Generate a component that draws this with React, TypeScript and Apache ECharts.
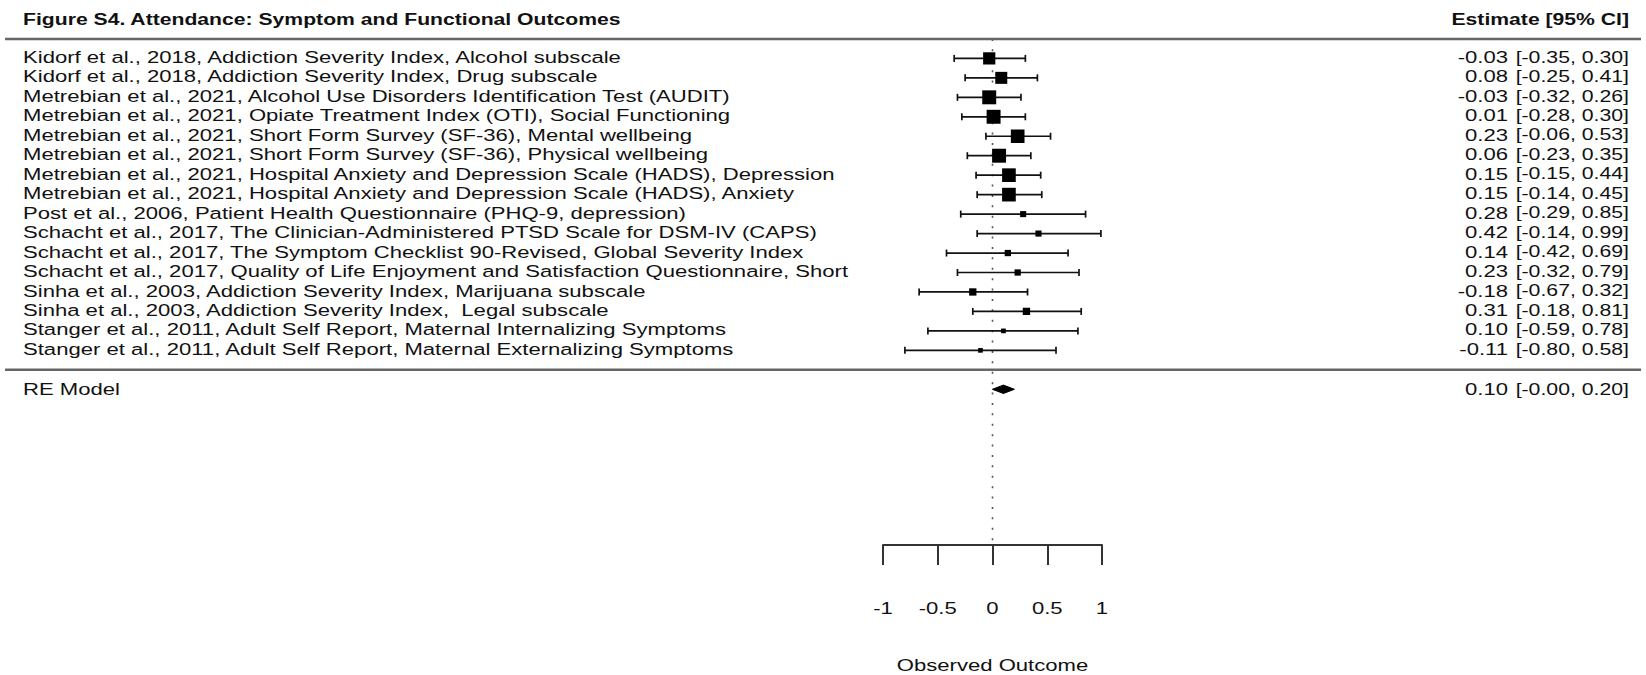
import React, { useEffect, useRef } from "react";
import * as echarts from "echarts";

// ---------- data ----------
const figureTitle = "Figure S4. Attendance: Symptom and Functional Outcomes";
const estimateHeader = "Estimate [95% CI]";
const xAxisTitle = "Observed Outcome";

const studyLabels = [
  "Kidorf et al., 2018, Addiction Severity Index, Alcohol subscale",
  "Kidorf et al., 2018, Addiction Severity Index, Drug subscale",
  "Metrebian et al., 2021, Alcohol Use Disorders Identification Test (AUDIT)",
  "Metrebian et al., 2021, Opiate Treatment Index (OTI), Social Functioning",
  "Metrebian et al., 2021, Short Form Survey (SF-36), Mental wellbeing",
  "Metrebian et al., 2021, Short Form Survey (SF-36), Physical wellbeing",
  "Metrebian et al., 2021, Hospital Anxiety and Depression Scale (HADS), Depression",
  "Metrebian et al., 2021, Hospital Anxiety and Depression Scale (HADS), Anxiety",
  "Post et al., 2006, Patient Health Questionnaire (PHQ-9, depression)",
  "Schacht et al., 2017, The Clinician-Administered PTSD Scale for DSM-IV (CAPS)",
  "Schacht et al., 2017, The Symptom Checklist 90-Revised, Global Severity Index",
  "Schacht et al., 2017, Quality of Life Enjoyment and Satisfaction Questionnaire, Short",
  "Sinha et al., 2003, Addiction Severity Index, Marijuana subscale",
  "Sinha et al., 2003, Addiction Severity Index,  Legal subscale",
  "Stanger et al., 2011, Adult Self Report, Maternal Internalizing Symptoms",
  "Stanger et al., 2011, Adult Self Report, Maternal Externalizing Symptoms",
];
const estimates = [-0.03, 0.08, -0.03, 0.01, 0.23, 0.06, 0.15, 0.15, 0.28, 0.42, 0.14, 0.23, -0.18, 0.31, 0.10, -0.11];
const lowerCI = [-0.35, -0.25, -0.32, -0.28, -0.06, -0.23, -0.15, -0.14, -0.29, -0.14, -0.42, -0.32, -0.67, -0.18, -0.59, -0.80];
const upperCI = [0.30, 0.41, 0.26, 0.30, 0.53, 0.35, 0.44, 0.45, 0.85, 0.99, 0.69, 0.79, 0.32, 0.81, 0.78, 0.58];

const reLabel = "RE Model";
const reEstimate = 0.10;
const reLower = -0.001;
const reUpper = 0.20;

const xTickValues = [-1, -0.5, 0, 0.5, 1];
const xTickLabels = ["-1", "-0.5", "0", "0.5", "1"];

// ---------- layout / style ----------
const W = 1646;
const H = 675;
const FAMILY = "'Liberation Sans', Arial, Helvetica, sans-serif";
const FS = 17;
const TEXT = "#111";
const STRETCH = 1.3; // reference text is horizontally stretched
const STRETCH_BOLD = 1.245;
const STRETCH_CI = 1.25;
const LEFT_X = 23;
const EST_RIGHT_X = 1508;
const CI_RIGHT_X = 1629;
const Y_MIN = -9;
const Y_MAX = 19;

const k = studyLabels.length;
const rowOf = (i: number) => k - i; // 16 .. 1
const RE_ROW = -1;
const SEP_ROW = 0;
const TOP_ROW = k + 1;
const HEAD_ROW = k + 2;

const fmt = (v: number) => v.toFixed(2);

// square size as in metafor: 1/se rescaled into [0.5, 1.5]
const invSe = lowerCI.map((lo, i) => 3.92 / (upperCI[i] - lo));
const wMin = Math.min(...invSe);
const wMax = Math.max(...invSe);
const psize = invSe.map((w) => 0.5 + (w - wMin) / (wMax - wMin));
const SIZE_UNIT = 9.3;

const txt = (text: string, x: number, y: number, align: string, bold = false, sx = STRETCH) => ({
  type: "text",
  x,
  y,
  scaleX: sx,
  style: {
    text,
    x: 0,
    y: 0,
    align,
    verticalAlign: "middle",
    fontSize: FS,
    fontFamily: FAMILY,
    fontWeight: bold ? "bold" : "normal",
    fill: TEXT,
  },
});

export default function App() {
  const ref = useRef<HTMLDivElement>(null);

  useEffect(() => {
    if (!ref.current) return;
    const chart = echarts.init(ref.current, undefined, { renderer: "svg" });

    const studyData = studyLabels.map((_, i) => [estimates[i], rowOf(i), lowerCI[i], upperCI[i], psize[i], i]);

    const option: any = {
      animation: false,
      backgroundColor: "#fff",
      grid: { left: 883, right: W - 1102, top: 0, bottom: H - 545 },
      xAxis: {
        type: "value",
        min: xTickValues[0],
        max: xTickValues[xTickValues.length - 1],
        interval: 0.5,
        position: "bottom",
        axisLine: { show: true, onZero: false, lineStyle: { color: "#333", width: 2 } },
        axisTick: { show: true, length: 20, lineStyle: { color: "#333", width: 2 } },
        axisLabel: { show: false },
        splitLine: { show: false },
      },
      yAxis: { type: "value", min: Y_MIN, max: Y_MAX, show: false },
      series: [
        {
          // vertical reference line at 0
          type: "line",
          data: [[0, TOP_ROW], [0, Y_MIN]],
          symbol: "none",
          silent: true,
          lineStyle: { color: "#555", width: 1.6, type: [2, 8.4] },
          z: 1,
        },
        {
          // header and separators
          type: "custom",
          clip: false,
          silent: true,
          data: [[0, HEAD_ROW]],
          renderItem: (params: any, api: any) => {
            const yHead = api.coord([0, HEAD_ROW])[1];
            const yTop = api.coord([0, TOP_ROW])[1];
            const ySep = api.coord([0, SEP_ROW])[1];
            const lineSt = { stroke: "#666", lineWidth: 2.6 };
            return {
              type: "group",
              children: [
                txt(figureTitle, LEFT_X, yHead, "left", true, STRETCH_BOLD),
                txt(estimateHeader, CI_RIGHT_X, yHead, "right", true, STRETCH_BOLD),
                { type: "line", shape: { x1: 5, y1: yTop, x2: W - 5, y2: yTop }, style: lineSt },
                { type: "line", shape: { x1: 5, y1: ySep, x2: W - 5, y2: ySep }, style: lineSt },
              ],
            };
          },
          z: 2,
        },
        {
          // x tick labels and axis title
          type: "custom",
          clip: false,
          silent: true,
          data: xTickValues.map((v, i) => [v, Y_MIN, i]),
          renderItem: (params: any, api: any) => {
            const v = api.value(0);
            const i = api.value(2);
            const p = api.coord([v, Y_MIN]);
            const children: any[] = [txt(xTickLabels[i], p[0], p[1] + 63, "center")];
            if (v === 0) children.push(txt(xAxisTitle, p[0], p[1] + 120, "center"));
            return { type: "group", children };
          },
          z: 2,
        },
        {
          // studies
          type: "custom",
          clip: false,
          data: studyData,
          renderItem: (params: any, api: any) => {
            const est = api.value(0);
            const row = api.value(1);
            const lo = api.value(2);
            const hi = api.value(3);
            const ps = api.value(4);
            const idx = api.value(5);
            const c = api.coord([est, row]);
            const l = api.coord([lo, row]);
            const h = api.coord([hi, row]);
            const y = c[1];
            const s = ps * SIZE_UNIT;
            const st = { stroke: "#111", lineWidth: 1.7 };
            return {
              type: "group",
              children: [
                { type: "line", shape: { x1: l[0], y1: y, x2: h[0], y2: y }, style: st },
                { type: "line", shape: { x1: l[0], y1: y - 3.5, x2: l[0], y2: y + 3.5 }, style: st },
                { type: "line", shape: { x1: h[0], y1: y - 3.5, x2: h[0], y2: y + 3.5 }, style: st },
                { type: "rect", shape: { x: c[0] - s / 2, y: y - s / 2, width: s, height: s }, style: { fill: "#000" } },
                txt(studyLabels[idx], LEFT_X, y - 1.5, "left"),
                txt(fmt(est), EST_RIGHT_X, y - 1.5, "right"),
                txt(`[${fmt(lo)}, ${fmt(hi)}]`, CI_RIGHT_X, y - 1.5, "right", false, STRETCH_CI),
              ],
            };
          },
          z: 3,
        },
        {
          // RE model
          type: "custom",
          clip: false,
          data: [[reEstimate, RE_ROW, reLower, reUpper]],
          renderItem: (params: any, api: any) => {
            const est = api.value(0);
            const row = api.value(1);
            const lo = api.value(2);
            const hi = api.value(3);
            const c = api.coord([est, row]);
            const l = api.coord([lo, row]);
            const h = api.coord([hi, row]);
            const y = c[1];
            return {
              type: "group",
              children: [
                {
                  type: "polygon",
                  shape: { points: [[l[0], y], [c[0], y - 4.2], [h[0], y], [c[0], y + 4.2]] },
                  style: { fill: "#000", stroke: "#000", lineWidth: 1 },
                },
                txt(reLabel, LEFT_X, y - 0.5, "left"),
                txt(fmt(est), EST_RIGHT_X, y - 0.5, "right"),
                txt(`[${fmt(lo)}, ${fmt(hi)}]`, CI_RIGHT_X, y - 0.5, "right", false, STRETCH_CI),
              ],
            };
          },
          z: 3,
        },
      ],
    };

    chart.setOption(option);
    return () => chart.dispose();
  }, []);

  return (
    <div
      ref={ref}
      style={{ position: "absolute", left: 0, top: 0, width: W, height: H, background: "#fff" }}
    />
  );
}
